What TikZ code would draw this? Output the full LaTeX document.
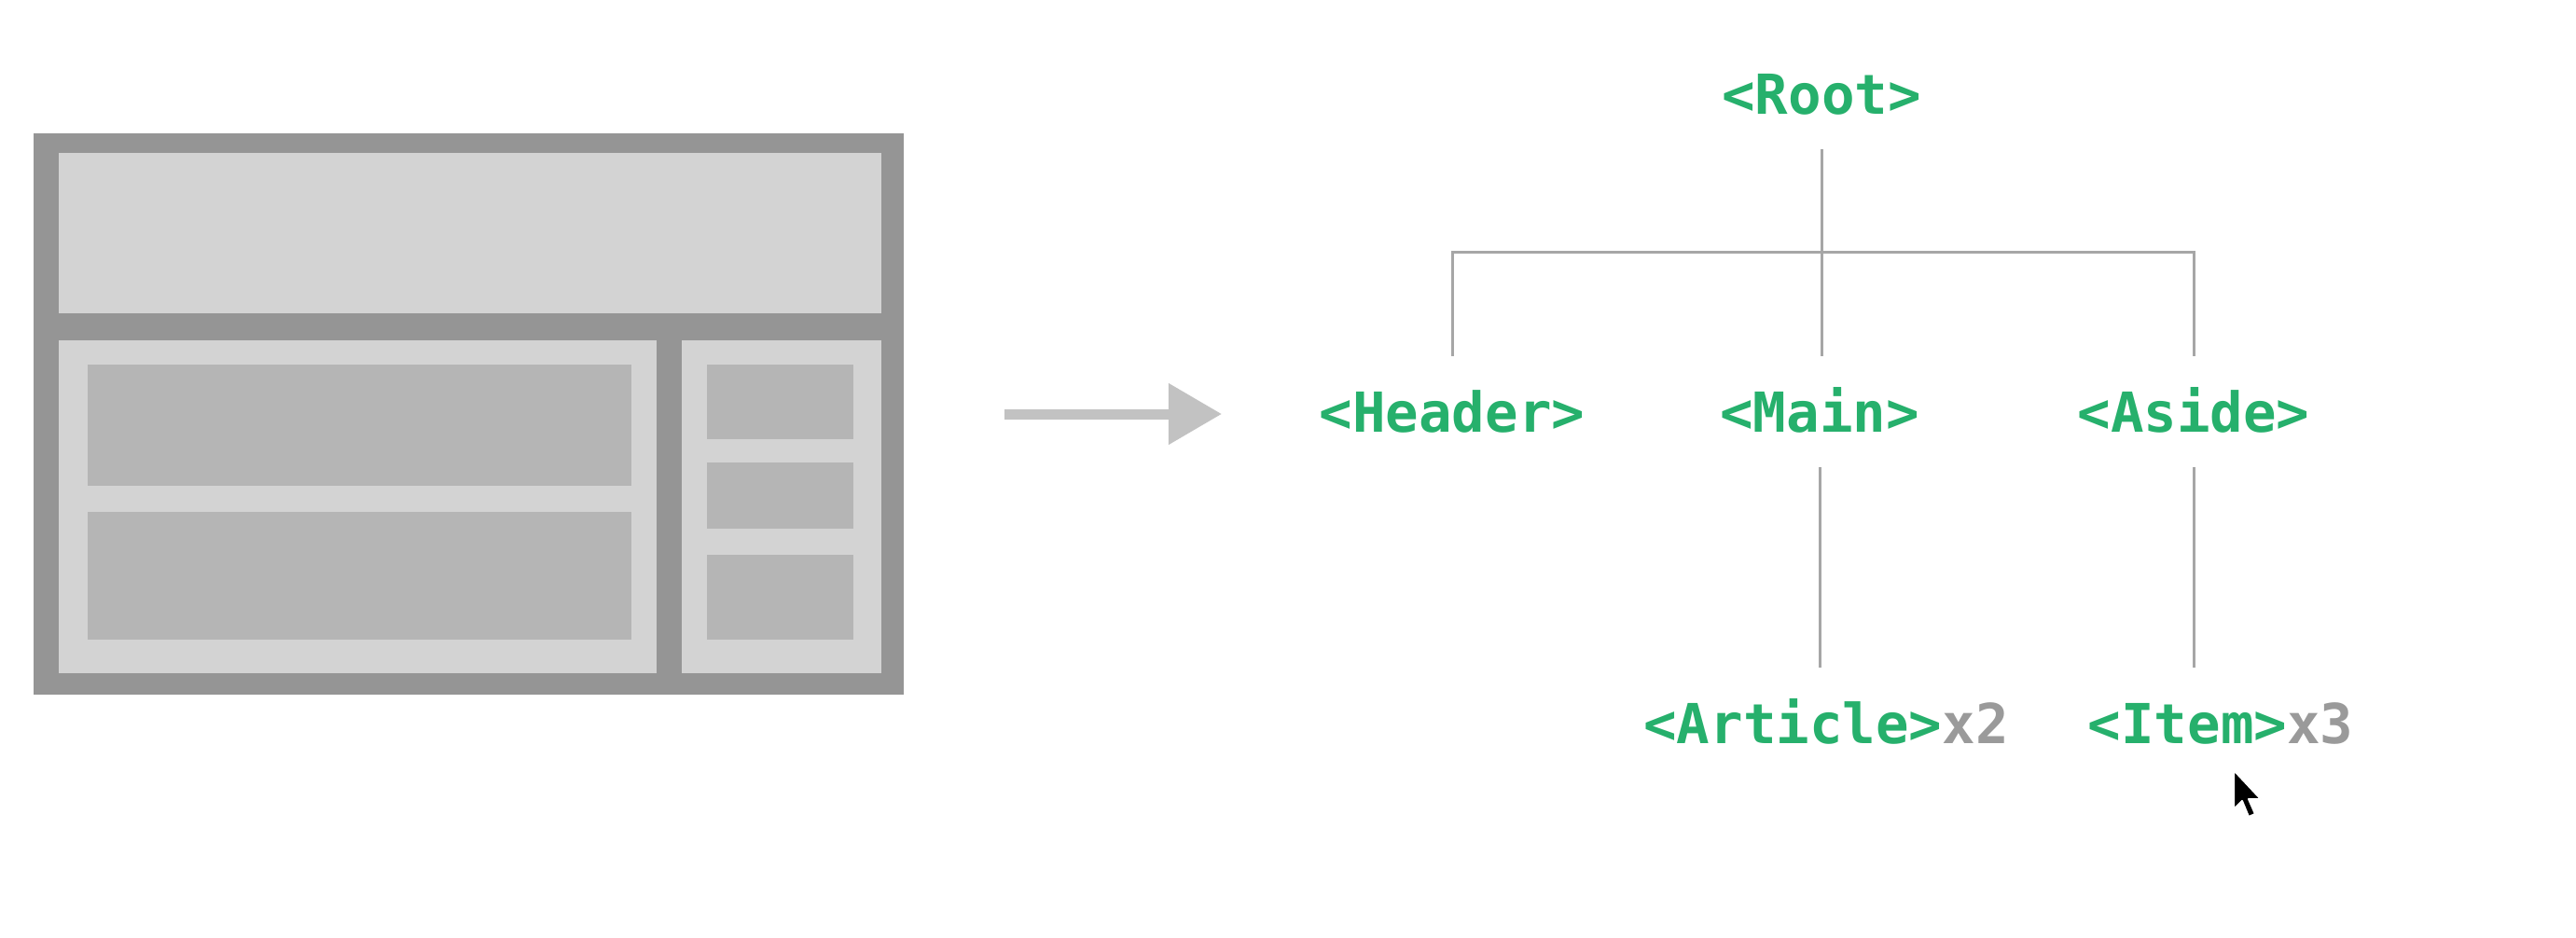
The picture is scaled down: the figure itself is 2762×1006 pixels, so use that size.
\documentclass[tikz,border=0pt]{standalone}
\usepackage{fontspec}
\newfontfamily\codefont{DejaVu Sans Mono}
\usetikzlibrary{arrows.meta}
\definecolor{outerg}{HTML}{959595}
\definecolor{panelg}{HTML}{D3D3D3}
\definecolor{innerg}{HTML}{B5B5B5}
\definecolor{arrowg}{HTML}{C2C2C2}
\definecolor{linkg}{HTML}{A6A6A6}
\definecolor{tagg}{RGB}{38,176,108}
\definecolor{countg}{HTML}{9A9A9A}
\tikzset{
  tag/.style={anchor=base, inner sep=0pt, outer xsep=0pt, outer ysep=0.38cm,
    text height=0.43cm, text depth=0pt, text=tagg,
    font=\codefont\bfseries\fontsize{16.8pt}{20pt}\selectfont},
  conn/.style={draw=linkg, line width=0.03cm},
  bigarrow/.style={draw=arrowg, line width=0.11cm,
    -{Triangle[length=0.57cm,width=0.63cm]}},
  cursorshape/.style={fill=black, draw=white, line width=0.02cm, line join=round}
}
\newcommand{\cnt}[1]{\textcolor{countg}{#1}}
\begin{document}
\begin{tikzpicture}[x=0.01cm,y=-0.01cm]
\useasboundingbox[fill=white] (0,0) rectangle (2762,1006);
% layout sketch
\fill[outerg] (36,143) rectangle (969,745);
\fill[panelg] (63,164) rectangle (945,336);
\fill[panelg] (63,365) rectangle (704,722);
\fill[panelg] (731,365) rectangle (945,722);
\fill[innerg] (94,391) rectangle (677,521);
\fill[innerg] (94,549) rectangle (677,686);
\fill[innerg] (758,391) rectangle (915,471);
\fill[innerg] (758,496) rectangle (915,567);
\fill[innerg] (758,595) rectangle (915,686);
% big arrow
\coordinate (arrowstart) at (1077,444);
\coordinate (arrowend) at (1310,444);
\draw[bigarrow] (arrowstart) -- (arrowend);
% tree
\node[tag] (root) at (1953,122) {<Root>};
\node[tag] (header) at (1557,463) {<Header>};
\node[tag] (main) at (1951,463) {<Main>};
\node[tag] (aside) at (2352,463) {<Aside>};
\node[tag] (article) at (1958,797) {<Article>\cnt{x2}};
\node[tag] (item) at (2381,797) {<Item>\cnt{x3}};
\coordinate (bar) at (1951,270);
\draw[conn] (root.south) -- (root.south |- main.north);
\draw[conn] (header.north) |- (bar) -| (aside.north);
\draw[conn] (main.south) -- (main.south |- article.north);
\draw[conn] (aside.south) -- (aside.south |- item.north);
% mouse cursor
\draw[cursorshape] (2395,826) -- (2395,868) -- (2404,859) -- (2411,876) -- (2418,873) -- (2411,857) -- (2424,857) -- cycle;
\end{tikzpicture}
\end{document}
